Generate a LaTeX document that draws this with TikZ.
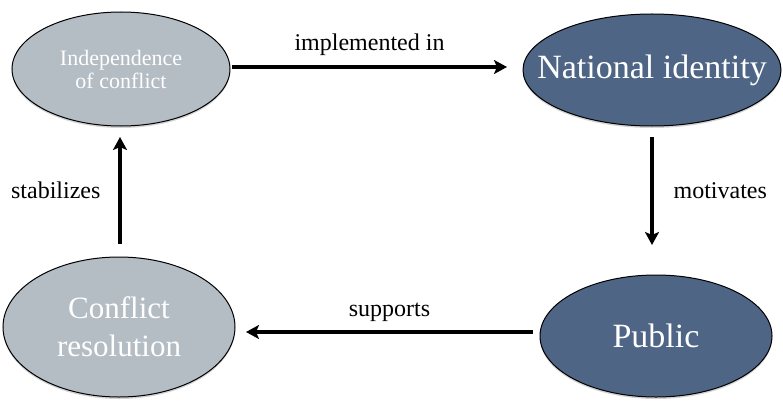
\documentclass[tikz,border=0pt]{standalone}
\usepackage{fontspec}
\setmainfont{Liberation Serif}
\usetikzlibrary{shapes.geometric,arrows.meta,shadows}
\definecolor{lightfill}{HTML}{B4BCC4}
\definecolor{darkfill}{HTML}{4E6585}
\begin{document}
\begin{tikzpicture}[x=1pt,y=-1pt,
  bubble/.style={ellipse,draw=black,line width=1pt,inner sep=0pt,
    drop shadow={shadow xshift=0pt,shadow yshift=-2pt,opacity=0.35}},
  lightbubble/.style={bubble,fill=lightfill},
  darkbubble/.style={bubble,fill=darkfill},
  btext/.style={inner sep=0pt,text=white,align=center},
  conn/.style={line width=3.2pt,-{Stealth[length=13pt,width=14pt,inset=3pt]}},
  lbl/.style={inner sep=0pt,font=\fontsize{24}{28}\selectfont}]
\useasboundingbox (0,0) rectangle (783,409);
\node[lightbubble,minimum width=218pt,minimum height=114pt] (ind) at (121,69) {};
\node[btext,font=\fontsize{22}{23}\selectfont] (indt) at (ind) {Independence\\of conflict};
\node[darkbubble,minimum width=258pt,minimum height=112pt] (nat) at (652,70) {};
\node[btext,font=\fontsize{34}{38}\selectfont] (natt) at (nat) {National identity};
\node[lightbubble,minimum width=232pt,minimum height=140pt] (con) at (119,327) {};
\node[btext,font=\fontsize{31}{38}\selectfont] (cont) at (con) {Conflict\\resolution};
\node[darkbubble,minimum width=232pt,minimum height=122pt] (pub) at (656,336) {};
\node[btext,font=\fontsize{34}{38}\selectfont] (pubt) at (pub) {Public};
\coordinate (a1) at (232,67); \coordinate (a2) at (507,67);
\coordinate (b1) at (652,137); \coordinate (b2) at (652,245);
\coordinate (c1) at (533,332); \coordinate (c2) at (246,332);
\coordinate (d1) at (120,244); \coordinate (d2) at (120,137);
\draw[conn] (a1) -- (a2) node[midway,above=10pt,lbl] (la) {implemented in};
\draw[conn] (b1) -- (b2) node[midway,right=20pt,lbl] (lb) {motivates};
\draw[conn] (c1) -- (c2) node[midway,above=9pt,lbl] (lc) {supports};
\draw[conn] (d1) -- (d2) node[midway,left=18pt,lbl] (ld) {stabilizes};
\end{tikzpicture}
\end{document}
